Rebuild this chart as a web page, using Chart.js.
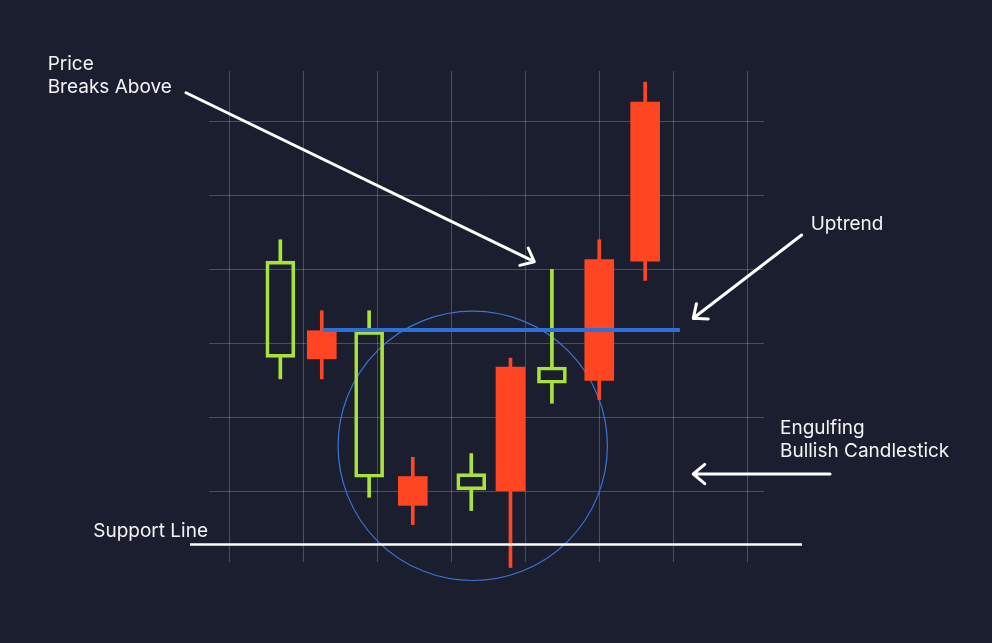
<!DOCTYPE html>
<html>
<head>
<meta charset="utf-8">
<script src="https://cdn.jsdelivr.net/npm/chart.js@4.4.1/dist/chart.umd.min.js"></script>
<style>
  html, body { margin: 0; padding: 0; background: #1b1e2f; }
  #wrap { width: 992px; height: 643px; }
</style>
</head>
<body>
<div id="wrap"><canvas id="chart"></canvas></div>
<script>
// candle positions (grid columns) and OHLC values
const candleX = [0.69, 1.25, 1.89, 2.48, 3.27, 3.80, 4.36, 5.00, 5.62];
const openVals  = [118.1, 121.7, 101.9, 102.0, 100.2, 116.8, 114.6, 131.3, 152.6];
const highVals  = [134.0, 124.4, 124.4, 104.6, 105.1, 118.0, 130.0, 134.0, 155.3];
const lowVals   = [115.2, 115.2,  99.2,  95.5,  97.4,  89.7, 111.9, 112.4, 128.5];
const closeVals = [131.1, 117.9, 121.6,  98.1, 102.4, 100.1, 116.8, 115.0, 131.1];

// grid ticks
const xTicks = [0, 1, 2, 3, 4, 5, 6, 7];
const yTicks = [100, 110, 120, 130, 140, 150];

// reference lines
const uptrendX = [1.26, 6.09];
const uptrendY = 121.8;
const supportX = [-0.53, 7.74];
const supportY = 92.8;

// annotation circle (radius in x units)
const circle = { x: 3.29, y: 106.15, r: 1.82 };

// arrows: from -> to
const arrows = [
  { from: [-0.585, 153.86], to: [4.122, 131.03] },
  { from: [7.735, 134.64], to: [6.27, 123.38] },
  { from: [8.118, 102.34], to: [6.27, 102.34] }
];

// labels (left aligned, baseline)
const labels = [
  { text: 'Price', x: -2.454, y: 156.93 },
  { text: 'Breaks Above', x: -2.454, y: 153.86 },
  { text: 'Uptrend', x: 7.857, y: 135.31 },
  { text: 'Engulfing', x: 7.442, y: 107.70 },
  { text: 'Bullish Candlestick', x: 7.442, y: 104.68 },
  { text: 'Support Line', x: -1.838, y: 93.86 }
];

const GREEN = '#a9e23a';
const RED = '#ff4521';
const isUp = candleX.map((x, i) => closeVals[i] >= openVals[i]);

const bodies = candleX.map((x, i) => ({ x: x, y: [Math.min(openVals[i], closeVals[i]), Math.max(openVals[i], closeVals[i])] }));
const upperWicks = candleX.map((x, i) => ({ x: x, y: [Math.max(openVals[i], closeVals[i]), highVals[i]] }));
const lowerWicks = candleX.map((x, i) => ({ x: x, y: [lowVals[i], Math.min(openVals[i], closeVals[i])] }));
const candleColor = isUp.map(u => u ? GREEN : RED);

const overlay = {
  id: 'overlay',
  beforeDatasetsDraw(chart) {
    const { ctx, scales: { x, y } } = chart;
    const cx = x.getPixelForValue(circle.x);
    const cy = y.getPixelForValue(circle.y);
    const r = x.getPixelForValue(circle.x + circle.r) - cx;
    ctx.save();
    ctx.strokeStyle = '#3b74d4';
    ctx.lineWidth = 1.2;
    ctx.beginPath();
    ctx.arc(cx, cy, r, 0, Math.PI * 2);
    ctx.stroke();
    ctx.restore();
  },
  afterDatasetsDraw(chart) {
    const { ctx, scales: { x, y } } = chart;
    ctx.save();
    ctx.strokeStyle = '#ffffff';
    ctx.lineWidth = 3;
    ctx.lineCap = 'round';
    ctx.lineJoin = 'round';
    arrows.forEach(a => {
      const x1 = x.getPixelForValue(a.from[0]), y1 = y.getPixelForValue(a.from[1]);
      const x2 = x.getPixelForValue(a.to[0]), y2 = y.getPixelForValue(a.to[1]);
      const ang = Math.atan2(y2 - y1, x2 - x1);
      const len = 15, spread = 0.7;
      ctx.beginPath();
      ctx.moveTo(x1, y1);
      ctx.lineTo(x2, y2);
      ctx.moveTo(x2 - len * Math.cos(ang - spread), y2 - len * Math.sin(ang - spread));
      ctx.lineTo(x2, y2);
      ctx.lineTo(x2 - len * Math.cos(ang + spread), y2 - len * Math.sin(ang + spread));
      ctx.stroke();
    });
    ctx.fillStyle = '#f4f4f6';
    ctx.font = '19px Inter, "Noto Sans", sans-serif';
    ctx.textAlign = 'left';
    ctx.textBaseline = 'alphabetic';
    labels.forEach(l => {
      ctx.fillText(l.text, x.getPixelForValue(l.x), y.getPixelForValue(l.y));
    });
    ctx.restore();
  }
};

new Chart(document.getElementById('chart'), {
  type: 'bar',
  data: {
    datasets: [
      {
        type: 'line', label: 'Support', order: 0, clip: false,
        data: supportX.map(v => ({ x: v, y: supportY })),
        borderColor: '#ffffff', borderWidth: 2.5, pointRadius: 0
      },
      {
        type: 'line', label: 'Uptrend', order: 1, clip: false,
        data: uptrendX.map(v => ({ x: v, y: uptrendY })),
        borderColor: '#2f6fd8', borderWidth: 4, pointRadius: 0
      },
      {
        label: 'Bodies', order: 2, grouped: false, clip: false,
        data: bodies, barThickness: 29,
        backgroundColor: isUp.map(u => u ? 'transparent' : RED),
        borderColor: candleColor,
        borderWidth: isUp.map(u => u ? 3 : 0),
        borderSkipped: false
      },
      {
        label: 'Upper wick', order: 3, grouped: false, clip: false,
        data: upperWicks, barThickness: 3,
        backgroundColor: candleColor, borderWidth: 0
      },
      {
        label: 'Lower wick', order: 3, grouped: false, clip: false,
        data: lowerWicks, barThickness: 3,
        backgroundColor: candleColor, borderWidth: 0
      }
    ]
  },
  options: {
    responsive: true,
    maintainAspectRatio: false,
    animation: false,
    layout: { padding: { left: 209, right: 228, top: 71, bottom: 81 } },
    scales: {
      x: {
        type: 'linear',
        offset: false,
        min: -0.274, max: 7.226,
        afterBuildTicks: s => { s.ticks = xTicks.map(v => ({ value: v })); },
        ticks: { display: false },
        grid: { color: 'rgba(200,205,225,0.28)', drawTicks: false, offset: false },
        border: { display: false }
      },
      y: {
        type: 'linear',
        min: 90.45, max: 156.8,
        afterBuildTicks: s => { s.ticks = yTicks.map(v => ({ value: v })); },
        ticks: { display: false },
        grid: { color: 'rgba(200,205,225,0.28)', drawTicks: false },
        border: { display: false }
      }
    },
    plugins: {
      legend: { display: false },
      tooltip: { enabled: false }
    }
  },
  plugins: [overlay]
});
</script>
</body>
</html>
